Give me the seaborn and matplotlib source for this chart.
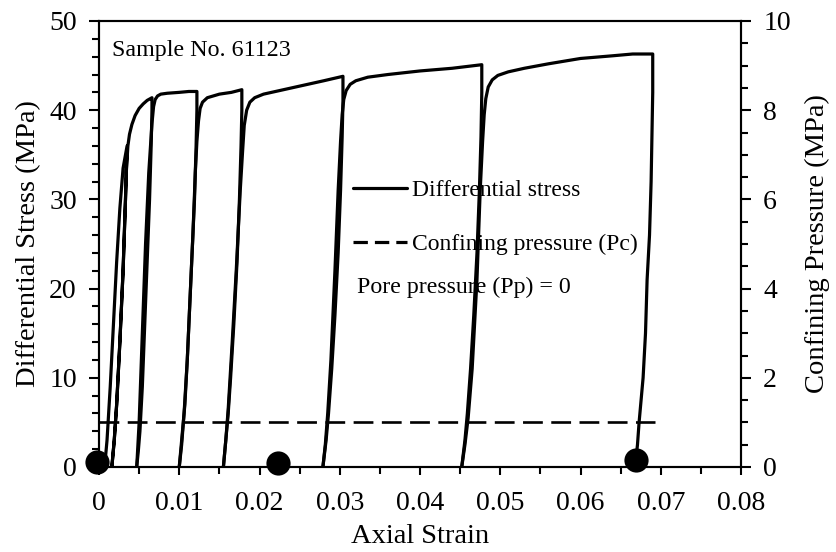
import numpy as np
import pandas as pd
import matplotlib
matplotlib.use("Agg")
import matplotlib.pyplot as plt
from matplotlib.lines import Line2D
from matplotlib.ticker import MultipleLocator
import seaborn as sns

# ---------------- data ----------------
# cycle 1: initial loading, small unload/reload loop, loading to first peak, unloading
c1_strain = [0.0007, 0.0010, 0.0014, 0.0018, 0.0022, 0.0026, 0.0030, 0.0035,
             0.0034, 0.0033, 0.0030, 0.0026, 0.0022, 0.0019, 0.0016,
             0.0019, 0.0022, 0.0026, 0.0030, 0.0033, 0.0034, 0.0036,
             0.0038, 0.0041, 0.0045, 0.0050, 0.0055, 0.0060, 0.0064, 0.0066,
             0.0066, 0.0065, 0.0063, 0.0060, 0.0057, 0.0054, 0.0051, 0.0049, 0.0047]
c1_stress = [0.0, 3.0, 9.0, 16.0, 23.0, 29.0, 33.5, 36.0,
             33.0, 30.0, 22.0, 14.0, 7.0, 3.0, 0.0,
             3.0, 7.0, 14.0, 22.0, 30.0, 33.0, 36.0,
             37.3, 38.4, 39.4, 40.2, 40.7, 41.1, 41.3, 41.4,
             40.0, 36.0, 30.0, 23.0, 16.0, 9.0, 4.0, 1.8, 0.0]

c2_strain = [0.0047, 0.0050, 0.0054, 0.0058, 0.0062, 0.0066, 0.0068, 0.0070, 0.0073, 0.0077,
             0.0085, 0.0100, 0.0112, 0.0122,
             0.0122, 0.0121, 0.0119, 0.0116, 0.0113, 0.0110, 0.0107, 0.0105, 0.0102, 0.0100]
c2_stress = [0.0, 5.0, 15.0, 25.0, 33.0, 38.5, 40.4, 41.2, 41.6, 41.8,
             41.9, 42.0, 42.1, 42.1,
             40.0, 36.0, 30.0, 24.0, 18.0, 12.0, 7.0, 5.0, 2.0, 0.0]

c3_strain = [0.0100, 0.0103, 0.0106, 0.0110, 0.0113, 0.0117, 0.0120, 0.0122, 0.0124, 0.0126,
             0.0129, 0.0135, 0.0150, 0.0165, 0.0178,
             0.0178, 0.0177, 0.0175, 0.0172, 0.0168, 0.0164, 0.0161, 0.0158, 0.0155]
c3_stress = [0.0, 2.5, 6.0, 12.0, 18.0, 26.0, 33.0, 36.5, 38.8, 40.2,
             40.9, 41.4, 41.8, 42.0, 42.3,
             40.0, 36.0, 30.0, 23.0, 16.0, 10.0, 6.0, 3.0, 0.0]

c4_strain = [0.0155, 0.0158, 0.0161, 0.0166, 0.0171, 0.0176, 0.0179, 0.0181, 0.0184, 0.0188,
             0.0194, 0.0205, 0.0230, 0.0255, 0.0280, 0.0304,
             0.0304, 0.0303, 0.0301, 0.0298, 0.0294, 0.0290, 0.0286, 0.0283, 0.0281, 0.0279]
c4_stress = [0.0, 3.0, 6.5, 14.0, 22.0, 31.0, 35.5, 38.3, 40.0, 40.9,
             41.4, 41.8, 42.3, 42.8, 43.3, 43.8,
             41.0, 37.0, 31.0, 24.0, 17.0, 11.0, 6.0, 3.0, 1.5, 0.0]

c5_strain = [0.0279, 0.0282, 0.0285, 0.0289, 0.0294, 0.0298, 0.0301, 0.0303, 0.0305, 0.0308,
             0.0313, 0.0320, 0.0335, 0.0360, 0.0400, 0.0440, 0.0477,
             0.0477, 0.0476, 0.0474, 0.0471, 0.0467, 0.0463, 0.0459, 0.0456, 0.0454, 0.0452]
c5_stress = [0.0, 2.5, 6.0, 12.0, 22.0, 31.0, 36.5, 39.5, 41.2, 42.2,
             42.9, 43.3, 43.7, 44.0, 44.4, 44.7, 45.1,
             42.0, 37.0, 31.0, 24.0, 17.0, 11.0, 6.0, 3.0, 1.5, 0.0]

c6_strain = [0.0452, 0.0456, 0.0460, 0.0465, 0.0471, 0.0475, 0.0478, 0.0480, 0.0482, 0.0485,
             0.0490, 0.0497, 0.0510, 0.0530, 0.0560, 0.0600, 0.0640, 0.0665, 0.0690,
             0.0690, 0.0689, 0.0688, 0.0686, 0.0683, 0.0681, 0.0678, 0.0673, 0.0671, 0.0669]
c6_stress = [0.0, 2.5, 5.5, 11.0, 21.0, 31.0, 36.5, 39.5, 41.3, 42.6,
             43.4, 43.9, 44.3, 44.7, 45.2, 45.8, 46.1, 46.3, 46.3,
             42.0, 37.0, 32.0, 26.0, 21.0, 15.0, 10.0, 5.0, 2.5, 0.8]

pc_strain = [0.0, 0.0693]
pc_value = [1.0, 1.0]          # confining pressure, MPa (right axis)

dot_strain = [-0.0002, 0.0223, 0.0669]
dot_stress = [0.6, 0.45, 0.8]

x_ticks = [0, 0.01, 0.02, 0.03, 0.04, 0.05, 0.06, 0.07, 0.08]
x_tick_labels = ["0", "0.01", "0.02", "0.03", "0.04", "0.05", "0.06", "0.07", "0.08"]
left_ticks = [0, 10, 20, 30, 40, 50]
right_ticks = [0, 2, 4, 6, 8, 10]

legend_labels = ["Differential stress", "Confining pressure (Pc)"]
sample_text = "Sample No. 61123"
pore_text = "Pore pressure (Pp) = 0"

# ---------------- build table ----------------
cycles = [(c1_strain, c1_stress), (c2_strain, c2_stress), (c3_strain, c3_stress),
          (c4_strain, c4_stress), (c5_strain, c5_stress), (c6_strain, c6_stress)]
frames = []
for i, (s, d) in enumerate(cycles):
    frames.append(pd.DataFrame({"strain": s, "stress": d, "cycle": i + 1}))
df = pd.concat(frames, ignore_index=True)
df_pc = pd.DataFrame({"strain": pc_strain, "pc": pc_value})
df_dot = pd.DataFrame({"strain": dot_strain, "stress": dot_stress})

# ---------------- style ----------------
sns.set_theme(style="ticks")
plt.rcParams["font.family"] = ["Liberation Serif", "DejaVu Serif"]
for k in ("text.color", "axes.labelcolor", "xtick.color", "ytick.color", "axes.edgecolor"):
    plt.rcParams[k] = "black"

fig = plt.figure(figsize=(8.36, 5.52), dpi=100)
L, R, B, T = 99 / 836, 741 / 836, 1 - 467 / 552, 1 - 21 / 552
ax = fig.add_axes([L, B, R - L, T - B])
ax.set_facecolor("white")
fig.patch.set_facecolor("white")

LW = 2.3
sns.lineplot(data=df, x="strain", y="stress", units="cycle", estimator=None, sort=False,
             color="black", lw=LW, ax=ax, legend=False)
for ln in ax.lines:
    ln.set_solid_joinstyle("round")
    ln.set_solid_capstyle("round")
sns.scatterplot(data=df_dot, x="strain", y="stress", color="black", s=260, ax=ax,
                legend=False, clip_on=False, zorder=5, edgecolor="black")

ax.set_xlim(0, 0.08)
ax.set_ylim(0, 50)
ax2 = ax.twinx()
sns.lineplot(data=df_pc, x="strain", y="pc", color="black", lw=1.9, ax=ax2, legend=False)
ax2.lines[0].set_dashes([7.5, 3.2])
ax2.set_ylim(0, 10)
ax2.set_xlim(0, 0.08)

TICK_FS = 20
LABEL_FS = 20.5
ax.set_xticks(x_ticks)
ax.set_xticklabels(x_tick_labels)
ax.set_yticks(left_ticks)
ax2.set_yticks(right_ticks)
ax.xaxis.set_minor_locator(MultipleLocator(0.005))
ax.yaxis.set_minor_locator(MultipleLocator(2))
ax2.yaxis.set_minor_locator(MultipleLocator(0.5))

for a in (ax, ax2):
    for sp in a.spines.values():
        sp.set_color("black")
        sp.set_linewidth(1.5)
        sp.set_visible(True)
ax.tick_params(axis="both", which="major", direction="out", length=7, width=1.5,
               labelsize=TICK_FS, colors="black", pad=9)
ax.tick_params(axis="both", which="minor", direction="out", length=5, width=1.5)
ax.tick_params(axis="x", which="major", length=6, pad=11)
ax2.tick_params(axis="y", which="major", direction="out", length=7, width=1.5,
                labelsize=TICK_FS, colors="black", pad=9)
ax2.tick_params(axis="y", which="minor", direction="out", length=5, width=1.5)

ax.set_xlabel("Axial Strain", fontsize=LABEL_FS, labelpad=6)
ax.set_ylabel("Differential Stress (MPa)", fontsize=LABEL_FS, labelpad=6)
ax2.set_ylabel("Confining Pressure (MPa)", fontsize=LABEL_FS, labelpad=10)

handles = [Line2D([], [], color="black", lw=LW),
           Line2D([], [], color="black", lw=LW, dashes=[4.5, 2.2])]
leg = ax.legend(handles, legend_labels, loc="upper left", bbox_to_anchor=(0.395, 0.645),
                frameon=False, fontsize=17, handlelength=2.3, handletextpad=0.2,
                labelspacing=1.38, borderaxespad=0, borderpad=0)
leg.set_zorder(1)
ax.text(0.0016, 46.7, sample_text, fontsize=17.3, va="center", ha="left")
ax.text(0.0321, 20.1, pore_text, fontsize=17.2, va="center", ha="left")

fig.savefig("out.png", dpi=100, facecolor="white")
